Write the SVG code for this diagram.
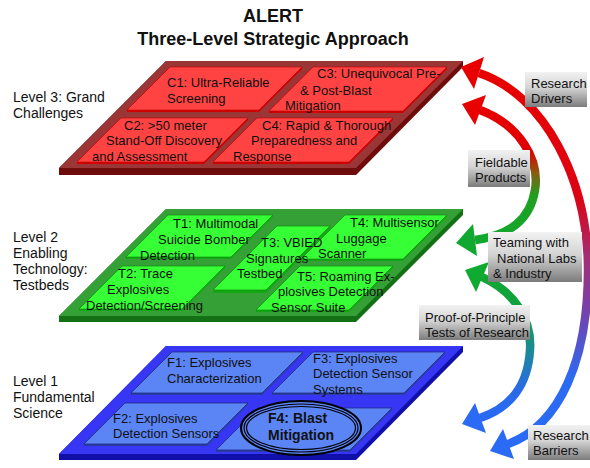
<svg xmlns="http://www.w3.org/2000/svg" width="590" height="468" viewBox="0 0 590 468">
  <defs>
    <style>
      text { font-family: "Liberation Sans", Arial, sans-serif; fill: #111; }
      .title { font-size: 18px; font-weight: bold; text-anchor: middle; }
      .lvl { font-size: 14px; }
      .t { font-size: 13px; }
      .tb { font-size: 14px; font-weight: bold; }
      .box { font-size: 13px; }
      .arc { fill: none; stroke-width: 8.5; stroke-linecap: butt; }
      .red-plate-side { fill: #6e0c0c; }
      .red-plate { fill: #9a3636; }
      .red-tile-side { fill: #d00000; }
      .red-tile { fill: #ff4343; stroke: #c00000; stroke-width: 0.6; }
      .grn-plate-side { fill: #147014; }
      .grn-plate { fill: #35a035; }
      .grn-tile-side { fill: #13a813; }
      .grn-tile { fill: #36ff36; stroke: #0a800a; stroke-width: 0.6; }
      .blu-plate-side { fill: #1010a8; }
      .blu-plate { fill: #3636f4; }
      .blu-tile-side { fill: #2a3ca8; }
      .blu-tile { fill: #5b84f5; stroke: #1c2470; stroke-width: 0.7; }
    </style>
    <linearGradient id="boxFill" x1="0" y1="0" x2="0" y2="1">
      <stop offset="0" stop-color="#f2f2f2"/>
      <stop offset="0.45" stop-color="#d4d4d4"/>
      <stop offset="1" stop-color="#7c7c7c"/>
    </linearGradient>
    <linearGradient id="gOuter" gradientUnits="userSpaceOnUse" x1="0" y1="70" x2="0" y2="455">
      <stop offset="0" stop-color="#e80000"/>
      <stop offset="0.33" stop-color="#dc0414"/>
      <stop offset="0.5" stop-color="#a0307a"/>
      <stop offset="0.62" stop-color="#7840aa"/>
      <stop offset="0.8" stop-color="#2c6af0"/>
      <stop offset="1" stop-color="#2a6af5"/>
    </linearGradient>
    <linearGradient id="gField" gradientUnits="userSpaceOnUse" x1="0" y1="100" x2="0" y2="245">
      <stop offset="0" stop-color="#e80000"/>
      <stop offset="0.35" stop-color="#e00000"/>
      <stop offset="0.5" stop-color="#8a5a10"/>
      <stop offset="0.66" stop-color="#20a020"/>
      <stop offset="1" stop-color="#10a830"/>
    </linearGradient>
    <linearGradient id="gProof" gradientUnits="userSpaceOnUse" x1="0" y1="262" x2="0" y2="425">
      <stop offset="0" stop-color="#10aa30"/>
      <stop offset="0.3" stop-color="#10a040"/>
      <stop offset="0.55" stop-color="#1a8a9a"/>
      <stop offset="0.78" stop-color="#2a6ae8"/>
      <stop offset="1" stop-color="#2a6af5"/>
    </linearGradient>
  </defs>

  <rect width="590" height="468" fill="#ffffff"/>

  <!-- heading -->
  <g id="title">
    <text class="title" x="273" y="22">ALERT</text>
    <text class="title" x="273" y="45">Three-Level Strategic Approach</text>
  </g>

  <!-- level captions -->
  <g id="level-labels">
    <text class="lvl" x="13" y="102">Level 3: Grand</text>
    <text class="lvl" x="13" y="118">Challenges</text>
    <text class="lvl" x="13" y="242">Level 2</text>
    <text class="lvl" x="13" y="258">Enabling</text>
    <text class="lvl" x="13" y="274">Technology:</text>
    <text class="lvl" x="13" y="290">Testbeds</text>
    <text class="lvl" x="13" y="386">Level 1</text>
    <text class="lvl" x="13" y="402">Fundamental</text>
    <text class="lvl" x="13" y="418">Science</text>
  </g>

  <!-- Level 3 plate -->
  <g id="level3">
    <polygon class="red-plate-side" points="166,61 463,61 463,67 356,175 59,175 59,168"/>
    <polygon class="red-plate" points="166,61 463,61 356,168 59,168"/>
    <g id="c1">
      <polygon class="red-tile-side" points="170,67 302,67 302,69 259,112 127,112 127,110"/>
      <polygon class="red-tile" points="170,67 302,67 259,110 127,110"/>
      <text class="t" x="167" y="87">C1: Ultra-Reliable</text>
      <text class="t" x="167" y="103">Screening</text>
    </g>
    <g id="c3">
      <polygon class="red-tile-side" points="313,67 447,67 447,69 403,113 269,113 269,111"/>
      <polygon class="red-tile" points="313,67 447,67 403,111 269,111"/>
      <text class="t" x="317" y="78">C3: Unequivocal Pre-</text>
      <text class="t" x="300" y="95">&amp; Post-Blast</text>
      <text class="t" x="285" y="110">Mitigation</text>
    </g>
    <g id="c2">
      <polygon class="red-tile-side" points="121,118 248,118 248,120 204,164 77,164 77,162"/>
      <polygon class="red-tile" points="121,118 248,118 204,162 77,162"/>
      <text class="t" x="124" y="130">C2: &gt;50 meter</text>
      <text class="t" x="106" y="145">Stand-Off Discovery</text>
      <text class="t" x="92" y="161">and Assessment</text>
    </g>
    <g id="c4">
      <polygon class="red-tile-side" points="257,118 393,118 393,120 349,164 213,164 213,162"/>
      <polygon class="red-tile" points="257,118 393,118 349,162 213,162"/>
      <text class="t" x="262" y="130">C4: Rapid &amp; Thorough</text>
      <text class="t" x="251" y="145">Preparedness and</text>
      <text class="t" x="233" y="161">Response</text>
    </g>
  </g>

  <!-- Level 2 plate -->
  <g id="level2">
    <polygon class="grn-plate-side" points="166,209 463,209 463,215 356,322 59,322 59,316"/>
    <polygon class="grn-plate" points="166,209 463,209 356,316 59,316"/>
    <g id="t1">
      <polygon class="grn-tile-side" points="168,215 273,215 273,217 231,259 126,259 126,257"/>
      <polygon class="grn-tile" points="168,215 273,215 231,257 126,257"/>
      <text class="t" x="173" y="228">T1: Multimodal</text>
      <text class="t" x="158" y="244">Suicide Bomber</text>
      <text class="t" x="140" y="260">Detection</text>
    </g>
    <g id="t2">
      <polygon class="grn-tile-side" points="122,266 225,266 225,268 182,311 79,311 79,309"/>
      <polygon class="grn-tile" points="122,266 225,266 182,309 79,309"/>
      <text class="t" x="118" y="278">T2: Trace</text>
      <text class="t" x="107" y="294">Explosives</text>
      <text class="t" x="86" y="310">Detection/Screening</text>
    </g>
    <g id="t4">
      <polygon class="grn-tile-side" points="345,215 447,215 447,217 403,261 301,261 301,259"/>
      <polygon class="grn-tile" points="345,215 447,215 403,259 301,259"/>
      <text class="t" x="350" y="227">T4: Multisensor</text>
      <text class="t" x="336" y="243">Luggage</text>
      <text class="t" x="318" y="258">Scanner</text>
    </g>
    <g id="t3">
      <polygon class="grn-tile-side" points="277,226 330,226 330,229 266,293 213,293 213,290"/>
      <polygon class="grn-tile" points="277,226 330,226 266,290 213,290"/>
      <text class="t" x="261" y="247">T3: VBIED</text>
      <text class="t" x="246" y="263">Signatures</text>
      <text class="t" x="237" y="278">Testbed</text>
    </g>
    <g id="t5">
      <polygon class="grn-tile-side" points="300,266 393,266 393,268 349,312 256,312 256,310"/>
      <polygon class="grn-tile" points="300,266 393,266 349,310 256,310"/>
      <text class="t" x="297" y="281">T5: Roaming Ex-</text>
      <text class="t" x="278" y="296">plosives Detection</text>
      <text class="t" x="271" y="312">Sensor Suite</text>
    </g>
  </g>

  <!-- Level 1 plate -->
  <g id="level1">
    <polygon class="blu-plate-side" points="166,346 463,346 463,352 356,460 59,460 59,454"/>
    <polygon class="blu-plate" points="166,346 463,346 356,454 59,454"/>
    <g id="f1">
      <polygon class="blu-tile-side" points="172,352 303,352 303,354 262,395 131,395 131,393"/>
      <polygon class="blu-tile" points="172,352 303,352 262,393 131,393"/>
      <text class="t" x="167" y="367">F1: Explosives</text>
      <text class="t" x="167" y="383">Characterization</text>
    </g>
    <g id="f3">
      <polygon class="blu-tile-side" points="313,352 445,352 445,354 404,395 272,395 272,393"/>
      <polygon class="blu-tile" points="313,352 445,352 404,393 272,393"/>
      <text class="t" x="313" y="363">F3: Explosives</text>
      <text class="t" x="313" y="378">Detection Sensor</text>
      <text class="t" x="313" y="394">Systems</text>
    </g>
    <g id="f4">
      <polygon class="blu-tile-side" points="258,408 392,408 392,410 350,452 216,452 216,450"/>
      <polygon class="blu-tile" points="258,408 392,408 350,450 216,450"/>
      <ellipse cx="301" cy="428" rx="60" ry="27" fill="#5b84f5" stroke="#000" stroke-width="2"/>
      <ellipse cx="301" cy="428" rx="57" ry="24" fill="none" stroke="#000" stroke-width="1.2"/>
      <ellipse cx="301" cy="428" rx="54.5" ry="21.5" fill="none" stroke="#000" stroke-width="1.2"/>
      <text class="tb" x="268" y="423">F4: Blast</text>
      <text class="tb" x="268" y="440">Mitigation</text>
    </g>
    <g id="f2">
      <polygon class="blu-tile-side" points="125,403 248,403 248,405 207,446 84,446 84,444"/>
      <polygon class="blu-tile" points="125,403 248,403 207,444 84,444"/>
      <text class="t" x="113" y="423">F2: Explosives</text>
      <text class="t" x="113" y="438">Detection Sensors</text>
    </g>
  </g>

  <!-- curved connectors between levels -->
  <g id="connectors">
    <path class="arc" stroke="url(#gOuter)" d="M479,73 C545,95 588,180 588,270 C588,360 560,425 508,444"/>
    <polygon fill="#e80000" points="461,67 484,57 474,89"/>
    <polygon fill="#2a6af5" points="490,451 514,459 503,429"/>

    <path class="arc" stroke="url(#gField)" d="M480,110 C520,125 540,160 535,190 C530,220 510,235 475,240"/>
    <polygon fill="#e80000" points="462,104 486,95 475,125"/>
    <polygon fill="#10a830" points="456,243 477,256 473,224"/>

    <path class="arc" stroke="url(#gProof)" d="M482,277 C515,292 532,320 530,350 C528,385 510,408 480,418"/>
    <polygon fill="#10aa30" points="465,270 489,262 476,292"/>
    <polygon fill="#2a6af5" points="462,424 486,433 475,403"/>
  </g>

  <!-- connector captions -->
  <g id="label-drivers">
    <rect x="525" y="72" width="62" height="35" fill="url(#boxFill)"/>
    <text class="box" x="531" y="88">Research</text>
    <text class="box" x="531" y="103">Drivers</text>
  </g>
  <g id="label-fieldable">
    <rect x="468" y="150" width="62" height="37" fill="url(#boxFill)"/>
    <text class="box" x="475" y="167">Fieldable</text>
    <text class="box" x="475" y="182">Products</text>
  </g>
  <g id="label-teaming">
    <rect x="488" y="232" width="94" height="50" fill="url(#boxFill)"/>
    <text class="box" x="493" y="247">Teaming with</text>
    <text class="box" x="497" y="263">National Labs</text>
    <text class="box" x="493" y="278">&amp; Industry</text>
  </g>
  <g id="label-proof">
    <rect x="419" y="305" width="111" height="35" fill="url(#boxFill)"/>
    <text class="box" x="425" y="322">Proof-of-Principle</text>
    <text class="box" x="425" y="337">Tests of Research</text>
  </g>
  <g id="label-barriers">
    <rect x="528" y="425" width="62" height="35" fill="url(#boxFill)"/>
    <text class="box" x="533" y="440">Research</text>
    <text class="box" x="533" y="455">Barriers</text>
  </g>
</svg>
